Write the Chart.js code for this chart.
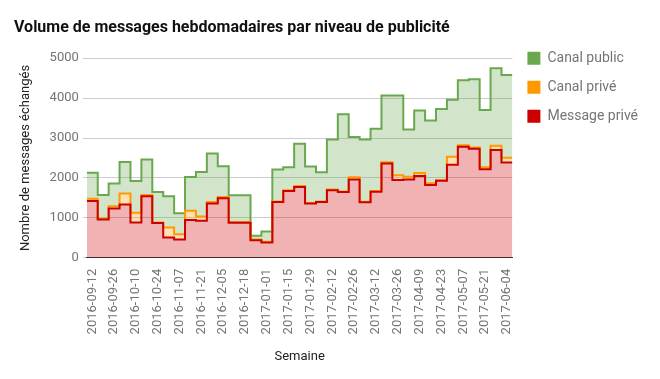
<!DOCTYPE html>
<html>
<head>
<meta charset="utf-8">
<script src="https://cdn.jsdelivr.net/npm/chart.js@4"></script>
<style>
body { margin: 0; background: #fff; }
#wrap { width: 660px; height: 379px; }
</style>
</head>
<body>
<div id="wrap"><canvas id="weeklyChart" width="660" height="379"></canvas></div>
<script>
var weeks = [
    '2016-09-12', '2016-09-19', '2016-09-26', '2016-10-03', '2016-10-10', '2016-10-17',
    '2016-10-24', '2016-10-31', '2016-11-07', '2016-11-14', '2016-11-21', '2016-11-28',
    '2016-12-05', '2016-12-11', '2016-12-18', '2016-12-25', '2017-01-01', '2017-01-08',
    '2017-01-15', '2017-01-22', '2017-01-29', '2017-02-05', '2017-02-12', '2017-02-19',
    '2017-02-26', '2017-03-05', '2017-03-12', '2017-03-19', '2017-03-26', '2017-04-02',
    '2017-04-09', '2017-04-16', '2017-04-23', '2017-04-30', '2017-05-07', '2017-05-14',
    '2017-05-21', '2017-05-28', '2017-06-04'
];

var messagePrive = [
    1420, 960, 1235, 1335, 885, 1540, 870, 510, 460, 945,
    930, 1360, 1490, 880, 880, 440, 385, 1395, 1675, 1770,
    1360, 1395, 1690, 1650, 1960, 1390, 1655, 2360, 1950, 1960,
    2050, 1820, 1930, 2330, 2780, 2730, 2215, 2700, 2385
];

var canalPrive = [
    60, 25, 55, 275, 245, 30, 15, 250, 130, 230,
    105, 40, 35, 15, 15, 15, 15, 15, 15, 30,
    15, 15, 20, 10, 55, 15, 15, 30, 120, 70,
    75, 50, 10, 200, 40, 30, 55, 105, 120
];

var canalPublic = [
    650, 585, 570, 790, 795, 890, 765, 780, 525, 850,
    1115, 1210, 765, 670, 670, 95, 255, 800, 575, 1055,
    910, 735, 1250, 1935, 1010, 1560, 1560, 1675, 1995, 1185,
    1565, 1570, 1785, 1430, 1630, 1715, 1430, 1945, 2075
];

var yMax = 5000;
var yStep = 1000;

Chart.defaults.font.family = 'Roboto';

// one point per week on a hidden linear axis, plus a closing point so the last step is full width
var toPoints = function (values) {
    var pts = values.map(function (v, i) { return { x: i, y: v }; });
    pts.push({ x: values.length, y: values[values.length - 1] });
    return pts;
}

var makeSet = function (label, values, color, fillColor, fill) {
    return {
        label: label,
        data: toPoints(values),
        xAxisID: 'xd',
        borderColor: color,
        backgroundColor: fillColor,
        borderWidth: 2,
        pointRadius: 0,
        stepped: true,
        fill: fill
    };
}

new Chart('weeklyChart', {
    type: 'line',
    data: {
        labels: weeks,
        datasets: [
            makeSet('Message privé', messagePrive, '#cc0000', 'rgba(204,0,0,0.3)', 'origin'),
            makeSet('Canal privé', canalPrive, '#ff9900', 'rgba(255,153,0,0.3)', '-1'),
            makeSet('Canal public', canalPublic, '#6aa84f', 'rgba(106,168,79,0.3)', '-1')
        ]
    },
    options: {
        responsive: false,
        animation: false,
        layout: { padding: { left: 14, right: 12, top: 14, bottom: 10 } },
        scales: {
            x: {
                type: 'category',
                offset: true,
                grid: { display: false },
                border: { display: true, color: '#333333' },
                ticks: {
                    autoSkip: false,
                    minRotation: 90,
                    maxRotation: 90,
                    color: '#757575',
                    font: { size: 13 },
                    callback: function (v, i) { return i % 2 === 0 ? weeks[i] : ''; }
                },
                title: { display: true, text: 'Semaine', color: '#222222', font: { size: 13 }, padding: { top: 12 } }
            },
            xd: {
                type: 'linear',
                display: false,
                min: 0,
                max: weeks.length
            },
            y: {
                stacked: true,
                min: 0,
                max: yMax,
                grid: { color: '#cccccc', tickLength: 4 },
                border: { display: false },
                ticks: {
                    stepSize: yStep,
                    color: '#757575',
                    font: { size: 13 },
                    padding: 4,
                    callback: function (v) { return String(v); }
                },
                title: { display: true, text: 'Nombre de messages échangés', color: '#222222', font: { size: 13 }, padding: { bottom: 12 } }
            }
        },
        plugins: {
            title: {
                display: true,
                text: 'Volume de messages hebdomadaires par niveau de publicité',
                align: 'start',
                color: '#111111',
                font: { size: 16, weight: 'bold' },
                padding: { top: 4, bottom: 21 }
            },
            legend: {
                position: 'right',
                align: 'start',
                reverse: true,
                title: { display: true, text: '', font: { size: 1 }, padding: { top: 0, bottom: 21 } },
                labels: {
                    boxWidth: 13,
                    boxHeight: 13,
                    padding: 15,
                    color: '#757575',
                    font: { size: 14 },
                    generateLabels: function (chart) {
                        var items = Chart.defaults.plugins.legend.labels.generateLabels(chart);
                        items.forEach(function (it) { it.fillStyle = it.strokeStyle; it.lineWidth = 0; });
                        return items;
                    }
                }
            },
            tooltip: { enabled: false }
        }
    }
});
</script>
</body>
</html>
